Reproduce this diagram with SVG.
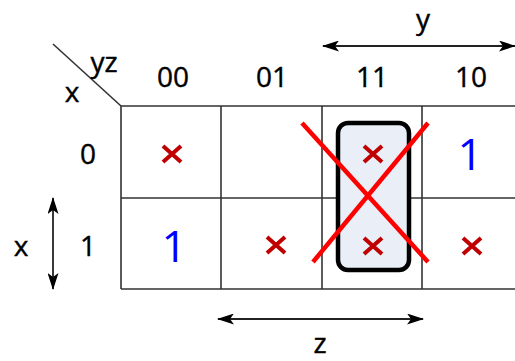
<svg xmlns="http://www.w3.org/2000/svg" width="515" height="361" viewBox="0 0 515 361">
<style>
.grid{stroke:#333;stroke-width:1.6;fill:none}
.lbl{font-family:"Open Sans","Liberation Sans",sans-serif;font-size:28px;fill:#000;stroke:#000;stroke-width:0.4;text-anchor:middle}
.one{font-family:"Open Sans","Liberation Sans",sans-serif;font-size:44px;fill:#0000ff;text-anchor:middle}
.arr{stroke:#222;stroke-width:1.8;fill:none}
.dc{stroke:#c00000;stroke-width:4;fill:none}
.strike{stroke:#ff0000;stroke-width:4.5;fill:none}
</style>
<defs>
<marker id="ah" viewBox="0 0 17 11" refX="16" refY="5.5" markerWidth="17" markerHeight="11" markerUnits="userSpaceOnUse" orient="auto-start-reverse">
<path d="M0,0 L17,5.5 L0,11 L4,5.5 Z" fill="#000"/>
</marker>
<path id="x" d="M-9,-8 L9,8 M9,-8 L-9,8"/>
</defs>
<g id="map">
<path class="grid" d="M121,106 H515 M121,198 H515 M121,289 H515 M121,106 V289 M221,106 V289 M322,106 V289 M422,106 V289"/>
<line class="grid" x1="53" y1="44" x2="121" y2="106" stroke-width="1.3"/>
</g>
<g id="header">
<text class="lbl" x="104" y="72">yz</text>
<text class="lbl" x="72" y="102">x</text>
<text class="lbl" x="173" y="87">00</text>
<text class="lbl" x="272" y="87">01</text>
<text class="lbl" x="372" y="87">11</text>
<text class="lbl" x="471" y="87">10</text>
<text class="lbl" x="88" y="164">0</text>
<text class="lbl" x="88" y="256">1</text>
<text class="lbl" x="21" y="256">x</text>
<text class="lbl" x="423" y="29">y</text>
<text class="lbl" x="320" y="353">z</text>
</g>
<g id="group">
<rect x="338" y="123" width="71" height="147" rx="10" fill="#e9eef7" stroke="#000" stroke-width="4.5"/>
</g>
<g id="cells">
<use href="#x" class="dc" x="172" y="154"/>
<use href="#x" class="dc" x="373" y="154"/>
<use href="#x" class="dc" x="373" y="246"/>
<use href="#x" class="dc" x="276" y="245"/>
<use href="#x" class="dc" x="472" y="246"/>
<text class="one" x="470" y="170">1</text>
<text class="one" x="174" y="262">1</text>
</g>
<g id="connectors">
<line class="arr" x1="323" y1="46" x2="515" y2="46" marker-start="url(#ah)" marker-end="url(#ah)"/>
<line class="arr" x1="53" y1="198" x2="53" y2="289" marker-start="url(#ah)" marker-end="url(#ah)"/>
<line class="arr" x1="218" y1="319" x2="423" y2="319" marker-start="url(#ah)" marker-end="url(#ah)"/>
</g>
<g id="strike">
<line class="strike" x1="302" y1="123" x2="428" y2="262"/>
<line class="strike" x1="428" y1="123" x2="313" y2="262"/>
</g>
</svg>
